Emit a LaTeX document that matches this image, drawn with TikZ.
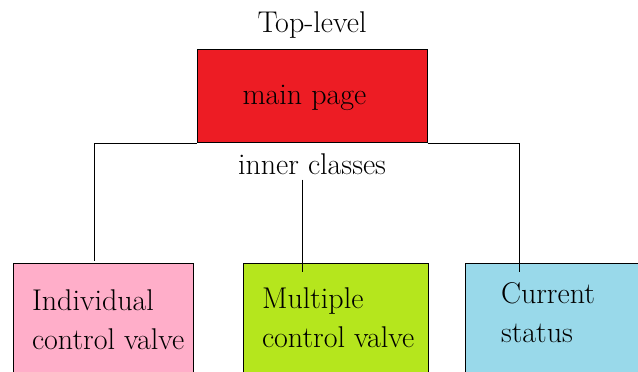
\documentclass[tikz,border=0pt]{standalone}
\usepackage{fontspec}
\setmainfont{Latin Modern Roman}
\usetikzlibrary{positioning}
\definecolor{mainred}{HTML}{ED1C24}
\definecolor{rosebox}{HTML}{FFAEC9}
\definecolor{limebox}{HTML}{B5E61D}
\definecolor{turqbox}{HTML}{99D9EA}

\begin{document}
\begin{tikzpicture}[x=1pt,y=1pt]
\tikzstyle{obj}=[draw, rectangle, line width=1pt, inner sep=0pt];
\tikzstyle{lbl}=[font=\fontsize{30}{39}\selectfont, align=left, inner sep=0pt];
\useasboundingbox (0,0) rectangle (638,372);
\clip (0,0) rectangle (638,372);
\begin{scope}[line width=1pt]
  \node (main) at (312,275.5) [obj, fill=mainred, minimum width=230pt, minimum height=93pt]{};
  \node (mainlbl) [lbl, anchor=base west] at (242,267) {main page};
  \node (toplevel) [above=11pt of main, lbl]{Top-level};
  \node (classes) [below=10pt of main, lbl]{inner classes};
  \node (indiv) at (103,39) [obj, fill=rosebox, minimum width=180pt, minimum height=138pt]{};
  \node (multi) at (335.5,39) [obj, fill=limebox, minimum width=185pt, minimum height=138pt]{};
  \node (status) at (565,39) [obj, fill=turqbox, minimum width=200pt, minimum height=138pt]{};
  \node (indivlbl) [lbl, anchor=north west] at ([shift={(19pt,-26pt)}]indiv.north west) {Individual\\control valve};
  \node (multilbl) [lbl, anchor=north west] at ([shift={(19pt,-24pt)}]multi.north west) {Multiple\\control valve};
  \node (statuslbl) [lbl, anchor=north west] at ([shift={(36pt,-19pt)}]status.north west) {Current\\status};
  \coordinate (indivtop) at (94,111);
  \coordinate (multitop) at (302,100);
  \coordinate (statustop) at (519,100);

  \draw (main.south west) -| (indivtop);
  \draw (main.south east) -| (statustop);
  \draw[shorten <=4pt] (multitop |- classes.south) -- (multitop);
\end{scope}
\end{tikzpicture}
\end{document}
